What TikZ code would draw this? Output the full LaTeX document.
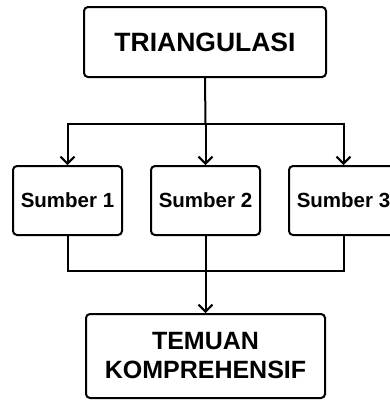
\documentclass[tikz,border=0pt]{standalone}
\usepackage{fontspec}
\setmainfont{Liberation Sans}
\usetikzlibrary{arrows.meta}
\begin{document}
\begin{tikzpicture}[x=1pt,y=1pt,
  box/.style={draw,line width=2pt,rounded corners=4pt,align=center,inner sep=0pt,font=\bfseries},
  conn/.style={line width=2pt},
  arr/.style={conn,-{Straight Barb[length=7pt,width=14pt,line width=2pt]}}]
\useasboundingbox (0,0) rectangle (390,-400);
\node[box,minimum width=242pt,minimum height=70pt,font=\bfseries\fontsize{26.5}{30}\selectfont] (top) at (205,-42) {TRIANGULASI};
\node[box,minimum width=109pt,minimum height=69pt,font=\bfseries\fontsize{20.5}{24}\selectfont] (s1) at (67.5,-200.5) {Sumber 1};
\node[box,minimum width=109pt,minimum height=69pt,font=\bfseries\fontsize{20.5}{24}\selectfont] (s2) at (205.5,-200.5) {Sumber 2};
\node[box,minimum width=109pt,minimum height=69pt,font=\bfseries\fontsize{20.5}{24}\selectfont] (s3) at (343.5,-200.5) {Sumber 3};
\node[box,minimum width=239pt,minimum height=84pt,font=\bfseries\fontsize{25}{29}\selectfont] (bot) at (205.5,-356) {TEMUAN\\KOMPREHENSIF};
\coordinate (j1) at (205.5,-124);
\coordinate (j2) at (205.5,-271);
\draw[conn] (top.south) -- (j1);
\draw[arr] (j1) -| (s1.north);
\draw[arr] (j1) -- (s2.north);
\draw[arr] (j1) -| (s3.north);
\draw[conn] (s1.south) |- (j2);
\draw[conn] (s3.south) |- (j2);
\draw[conn] (s2.south) -- (j2);
\draw[arr] (j2) -- (bot.north);
\end{tikzpicture}
\end{document}
